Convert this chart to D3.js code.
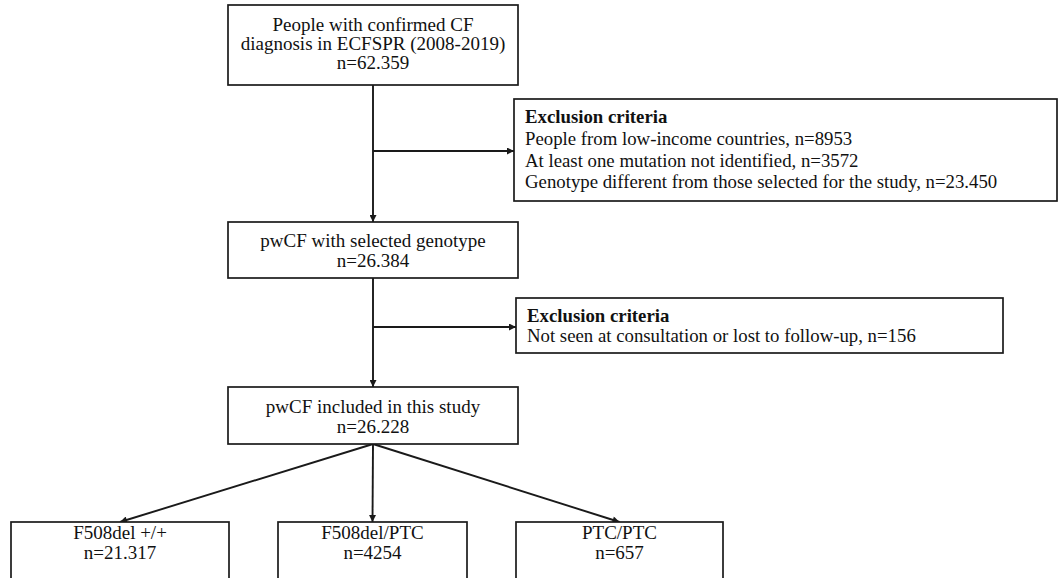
<!DOCTYPE html>
<html>
<head>
<meta charset="utf-8">
<script src="https://cdn.jsdelivr.net/npm/d3@7/dist/d3.min.js"></script>
<style>
  html, body { margin: 0; padding: 0; background: #ffffff; }
  svg { display: block; }
  text { font-family: "Liberation Serif", "Times New Roman", serif; fill: #111; }
</style>
</head>
<body>
<svg id="chart" width="1059" height="578"></svg>
<script>
// ---- data ----
const mainSteps = [
  ["People with confirmed CF", "diagnosis in ECFSPR (2008-2019)"],
  ["pwCF with selected genotype"],
  ["pwCF included in this study"]
];
const mainCounts = ["n=62.359", "n=26.384", "n=26.228"];
const exclusionTitle = "Exclusion criteria";
const exclusion1 = [
  "People from low-income countries, n=8953",
  "At least one mutation not identified, n=3572",
  "Genotype different from those selected for the study, n=23.450"
];
const exclusion2 = [
  "Not seen at consultation or lost to follow-up, n=156"
];
const groups = ["F508del +/+", "F508del/PTC", "PTC/PTC"];
const groupCounts = ["n=21.317", "n=4254", "n=657"];

// ---- layout ----
const svg = d3.select("#chart");
const stroke = "#1a1a1a";
const fsMain = 19;
const fsExcl = 18.8;

const defs = svg.append("defs");
defs.append("marker")
  .attr("id", "arrow")
  .attr("viewBox", "0 0 10 10")
  .attr("refX", 10).attr("refY", 5)
  .attr("markerWidth", 9).attr("markerHeight", 7)
  .attr("markerUnits", "userSpaceOnUse")
  .attr("orient", "auto")
  .append("path").attr("d", "M0,0 L10,5 L0,10 Z").attr("fill", stroke);

const mainX = 228, mainW = 290, cx = mainX + mainW / 2;
const mainBoxes = [
  { y: 5, h: 80, baselines: [31, 50, 69] },
  { y: 222, h: 56, baselines: [247, 267] },
  { y: 387, h: 57, baselines: [413, 433] }
];
const exclBoxes = [
  { x: 514, y: 99, w: 543, h: 102, arrowY: 151, baselines: [123, 145, 167, 188], lines: exclusion1 },
  { x: 516, y: 298, w: 487, h: 55, arrowY: 327, baselines: [322, 342], lines: exclusion2 }
];
const groupBoxes = [
  { x: 11, w: 218 },
  { x: 278, w: 189 },
  { x: 516, w: 207 }
];
const groupTop = 522, groupBaselines = [539, 559];

function box(x, y, w, h) {
  svg.append("rect")
    .attr("x", x).attr("y", y).attr("width", w).attr("height", h)
    .attr("fill", "#fff").attr("stroke", stroke).attr("stroke-width", 1.7);
}
function line(x1, y1, x2, y2, arrow) {
  const l = svg.append("line")
    .attr("x1", x1).attr("y1", y1).attr("x2", x2).attr("y2", y2)
    .attr("stroke", stroke).attr("stroke-width", 1.9);
  if (arrow) l.attr("marker-end", "url(#arrow)");
}

// connectors
line(cx, mainBoxes[0].y + mainBoxes[0].h, cx, mainBoxes[1].y, true);
line(cx, exclBoxes[0].arrowY, exclBoxes[0].x, exclBoxes[0].arrowY, true);
line(cx, mainBoxes[1].y + mainBoxes[1].h, cx, mainBoxes[2].y, true);
line(cx, exclBoxes[1].arrowY, exclBoxes[1].x, exclBoxes[1].arrowY, true);
const splitY = mainBoxes[2].y + mainBoxes[2].h;
groupBoxes.forEach(g => {
  line(cx, splitY, g.x + g.w / 2, groupTop, true);
});

// main boxes
mainBoxes.forEach((b, i) => {
  box(mainX, b.y, mainW, b.h);
  const lines = mainSteps[i].concat([mainCounts[i]]);
  svg.append("g").selectAll("text").data(lines).join("text")
    .attr("x", cx).attr("y", (d, j) => b.baselines[j])
    .attr("text-anchor", "middle").attr("font-size", fsMain)
    .text(d => d);
});

// exclusion boxes
exclBoxes.forEach(b => {
  box(b.x, b.y, b.w, b.h);
  const lines = [exclusionTitle].concat(b.lines);
  svg.append("g").selectAll("text").data(lines).join("text")
    .attr("x", b.x + 11).attr("y", (d, j) => b.baselines[j])
    .attr("font-size", fsExcl)
    .attr("font-weight", (d, j) => j === 0 ? "bold" : "normal")
    .text(d => d);
});

// group boxes
groupBoxes.forEach((g, i) => {
  box(g.x, groupTop, g.w, 80);
  svg.append("g").selectAll("text").data([groups[i], groupCounts[i]]).join("text")
    .attr("x", g.x + g.w / 2).attr("y", (d, j) => groupBaselines[j])
    .attr("text-anchor", "middle").attr("font-size", fsMain)
    .text(d => d);
});
</script>
</body>
</html>
